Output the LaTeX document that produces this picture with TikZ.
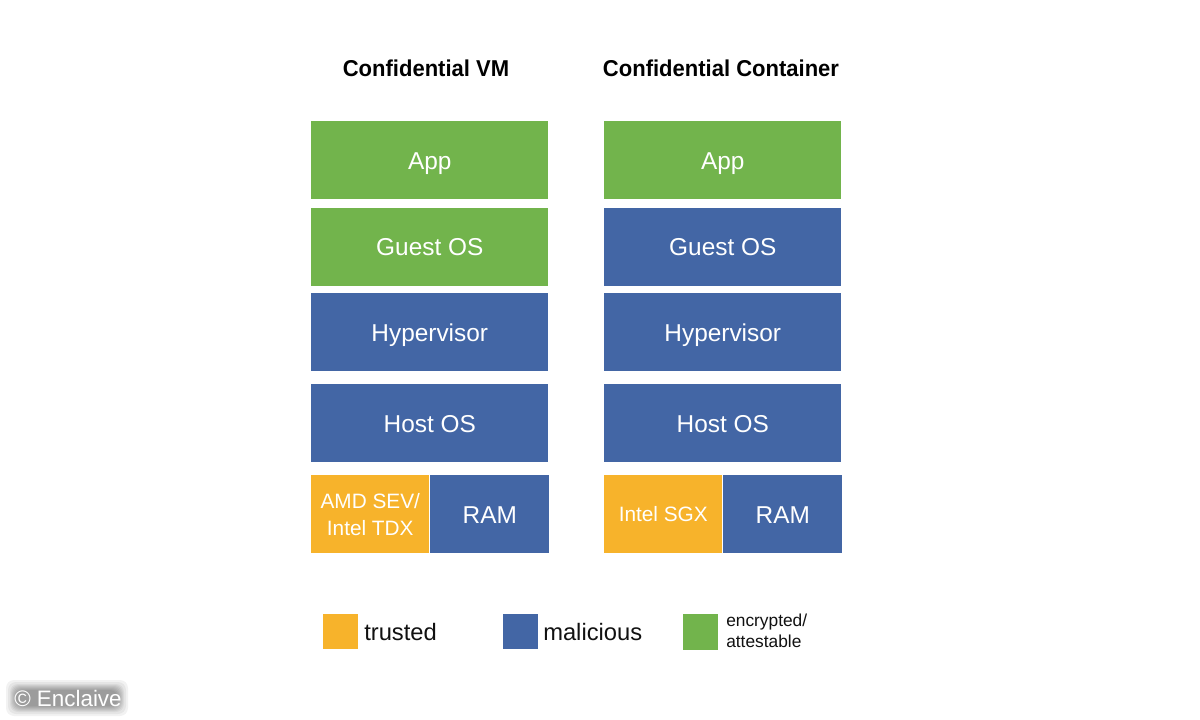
\documentclass[tikz,border=0pt]{standalone}
\usepackage{fontspec}
\setmainfont{Liberation Sans}
\newfontfamily\titlefont[FakeStretch=0.96]{Liberation Sans}
\definecolor{cgreen}{HTML}{72B44C}
\definecolor{cblue}{HTML}{4366A5}
\definecolor{cyellow}{HTML}{F7B32B}
\definecolor{ctext}{HTML}{111111}
\newlength{\unit}\setlength{\unit}{0.75pt}
\tikzset{
 block/.style={draw=none,inner sep=0pt,text=white,font=\fontsize{18.3pt}{22pt}\selectfont,align=center,minimum height=78\unit,anchor=north west},
 wideblock/.style={block,minimum width=237\unit,text height=13.8pt,text depth=0pt},
 chipblock/.style={block,minimum width=118\unit,font=\fontsize{15.6pt}{20.3pt}\selectfont},
 ramblock/.style={block,minimum width=119\unit,text height=13.8pt,text depth=0pt},
 title/.style={font=\titlefont\bfseries\fontsize{17.2pt}{21pt}\selectfont,text=black,inner sep=0pt},
 legendbox/.style={inner sep=0pt,minimum width=35\unit,minimum height=35\unit,anchor=north west},
 legendtext/.style={inner sep=0pt,anchor=west,text=ctext,align=left},
 halo/.style={fill=black,rounded corners=8\unit,fill opacity=0.05}
}
\begin{document}
\begin{tikzpicture}[x=0.75pt,y=-0.75pt]
\useasboundingbox (0,0) rectangle (1200,720);
\fill[white] (0,0) rectangle (1200,720);
\node[title] (t1) at (426,68.5) {Confidential VM};
\node[title] (t2) at (721,68.5) {Confidential Container};
\node[wideblock,fill=cgreen] (a1) at (311,121) {App};
\node[wideblock,fill=cgreen] (a2) at (311,207.5) {Guest OS};
\node[wideblock,fill=cblue] (a3) at (311,293) {Hypervisor};
\node[wideblock,fill=cblue] (a4) at (311,384) {Host OS};
\node[chipblock,fill=cyellow] (a5) at (311,475) {AMD SEV/\\Intel TDX};
\node[ramblock,fill=cblue] (a6) at (430,475) {RAM};
\node[wideblock,fill=cgreen] (b1) at (604,121) {App};
\node[wideblock,fill=cblue] (b2) at (604,207.5) {Guest OS};
\node[wideblock,fill=cblue] (b3) at (604,293) {Hypervisor};
\node[wideblock,fill=cblue] (b4) at (604,384) {Host OS};
\node[chipblock,fill=cyellow] (b5) at (604,475) {Intel SGX};
\node[ramblock,fill=cblue] (b6) at (723,475) {RAM};
\node[legendbox,fill=cyellow] (l1) at (323,614) {};
\node[legendbox,fill=cblue] (l2) at (503,614) {};
\node[legendbox,fill=cgreen,minimum height=36\unit] (l3) at (683,614) {};
\node[legendtext,font=\fontsize{17.8pt}{20pt}\selectfont] (lt1) at (364,632) {trusted};
\node[legendtext,font=\fontsize{17.8pt}{20pt}\selectfont] (lt2) at (543,632) {malicious};
\node[legendtext,font=\fontsize{13pt}{16pt}\selectfont] (lt3) at (726,631) {encrypted/\\attestable};
\fill[halo] (6,680) rectangle (128,716);
\fill[halo] (8,682) rectangle (126,714);
\fill[halo] (10,684) rectangle (124,712);
\fill[halo] (11,685) rectangle (123,711);
\fill[halo] (12,686) rectangle (122,710);
\fill[halo] (13,687) rectangle (121,709);
\fill[halo] (14,688) rectangle (120,708);
\fill[halo] (15,689) rectangle (119,707);
\fill[halo] (16,690) rectangle (118,706);
\node[inner sep=0pt,anchor=west,text=white,font=\fontsize{16.8pt}{18pt}\selectfont] (c) at (14,698) {© Enclaive};
\end{tikzpicture}
\end{document}
